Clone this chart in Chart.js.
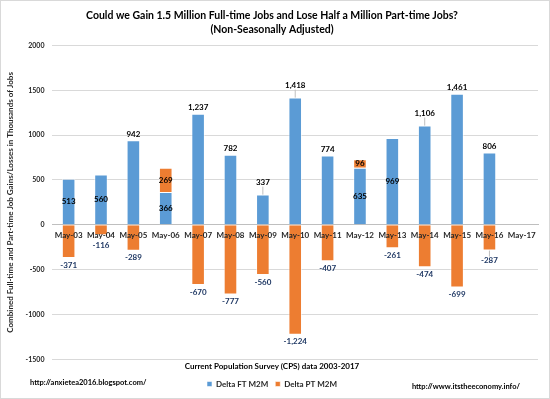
<!DOCTYPE html>
<html>
<head>
<meta charset="utf-8">
<script src="https://cdn.jsdelivr.net/npm/chart.js@4/dist/chart.umd.min.js"></script>
<style>
  html, body { margin: 0; padding: 0; background: #fff; }
</style>
</head>
<body>
<canvas id="jobsChart" width="550" height="399"></canvas>
<script>
// data (thousands of jobs)
const months = ['May-03', 'May-04', 'May-05', 'May-06', 'May-07', 'May-08', 'May-09', 'May-10',
                'May-11', 'May-12', 'May-13', 'May-14', 'May-15', 'May-16', 'May-17'];
const ftValues = [513, 560, 942, 366, 1237, 782, 337, 1418, 774, 635, 969, 1106, 1461, 806, null];
const ptValues = [-371, -116, -289, 269, -670, -777, -560, -1224, -407, 96, -261, -474, -699, -287, null];
const yTicks = [2000, 1500, 1000, 500, 0, -500, -1000, -1500];

// which FT labels sit inside the bar, which ones get a leader line
const ftInside = [0, 1, 3, 9, 10];
const leaderFT = [6, 7, 11];
const leaderPT = [13];

const FONT = 'Lato, "Liberation Sans", sans-serif';

// white background + thin chart border + footer links
const frame = {
  id: 'frame',
  beforeDraw(chart) {
    const ctx = chart.ctx;
    ctx.save();
    ctx.fillStyle = '#fff';
    ctx.fillRect(0, 0, chart.width, chart.height);
    ctx.strokeStyle = '#d9d9d9';
    ctx.strokeRect(0.5, 0.5, chart.width - 1, chart.height - 1);
    ctx.restore();
  },
  afterDraw(chart) {
    const ctx = chart.ctx;
    ctx.save();
    ctx.font = 'bold 7.5px ' + FONT;
    ctx.fillStyle = '#000';
    ctx.textBaseline = 'middle';
    ctx.textAlign = 'left';
    ctx.fillText('http://anxietea2016.blogspot.com/', 30, 383);
    ctx.textAlign = 'right';
    ctx.fillText('http://www.itstheeconomy.info/', 520, 387);
    ctx.restore();
  }
};

// value labels on the bars
const barLabels = {
  id: 'barLabels',
  afterDatasetsDraw(chart) {
    const ctx = chart.ctx;
    ctx.save();
    ctx.font = 'bold 8px ' + FONT;
    ctx.textAlign = 'center';
    ctx.textBaseline = 'middle';
    chart.data.datasets.forEach((ds, di) => {
      chart.getDatasetMeta(di).data.forEach((bar, i) => {
        const v = ds.data[i];
        if (v == null) return;
        const top = Math.min(bar.y, bar.base);
        const bottom = Math.max(bar.y, bar.base);
        const txt = v.toLocaleString('en-US');
        let y;
        let color = '#000';
        if (v > 0 && (di === 1 || ftInside.includes(i))) {
          y = (top + bottom) / 2;
        } else if (v > 0) {
          if (leaderFT.includes(i)) {
            y = top - 12;
            ctx.strokeStyle = '#bfbfbf';
            ctx.beginPath();
            ctx.moveTo(bar.x, y + 4);
            ctx.lineTo(bar.x, top);
            ctx.stroke();
          } else {
            y = top - 6;
          }
        } else {
          color = '#1f3864';
          if (leaderPT.includes(i)) {
            y = bottom + 10;
            ctx.strokeStyle = '#bfbfbf';
            ctx.beginPath();
            ctx.moveTo(bar.x, bottom);
            ctx.lineTo(bar.x, y - 4);
            ctx.stroke();
          } else {
            // keep clear of the month labels on the zero line
            y = Math.max(bottom + 7, bar.base + 20);
          }
        }
        ctx.fillStyle = color;
        ctx.fillText(txt, bar.x, y);
      });
    });
    ctx.restore();
  }
};

new Chart(document.getElementById('jobsChart'), {
  type: 'bar',
  data: {
    labels: months,
    datasets: [{
      label: 'Delta FT M2M',
      data: ftValues,
      backgroundColor: '#5b9bd5',
      borderColor: 'rgba(255,255,255,0.55)',
      borderWidth: 1
    }, {
      label: 'Delta PT M2M',
      data: ptValues,
      backgroundColor: '#ed7d31',
      borderColor: 'rgba(255,255,255,0.55)',
      borderWidth: 1
    }]
  },
  options: {
    responsive: false,
    animation: false,
    layout: { padding: { left: 6, right: 12, bottom: 1 } },
    datasets: {
      bar: { barPercentage: 0.42, categoryPercentage: 1 }
    },
    scales: {
      x: {
        stacked: true,
        position: { y: 0 },
        grid: { display: false },
        border: { display: true, color: '#bfbfbf' },
        ticks: {
          z: 1,
          color: '#262626',
          font: { family: FONT, size: 8, weight: 'bold' },
          maxRotation: 0,
          autoSkip: false,
          padding: -2
        }
      },
      y: {
        stacked: true,
        min: -1500,
        max: 2000,
        afterBuildTicks(scale) {
          scale.ticks = yTicks.map(v => ({ value: v }));
        },
        grid: { color: '#d9d9d9', drawTicks: false },
        border: { display: false },
        ticks: {
          color: '#262626',
          font: { family: FONT, size: 7, weight: 'bold' },
          padding: 8,
          callback: v => String(v)
        },
        title: {
          display: true,
          text: 'Combined Full-time and Part-time Job Gains/Losses in Thousands of Jobs',
          color: '#262626',
          font: { family: FONT, size: 8, weight: 'bold' },
          padding: { top: 0, bottom: 2 }
        }
      }
    },
    plugins: {
      title: {
        display: true,
        text: ['Could we Gain 1.5 Million Full-time Jobs and Lose Half a Million Part-time Jobs?',
               '(Non-Seasonally Adjusted)'],
        color: '#000',
        font: { family: FONT, size: 10.5, weight: 'bold', lineHeight: 1.4 },
        padding: { top: 8, bottom: 8 }
      },
      subtitle: {
        display: true,
        position: 'bottom',
        weight: 500,
        text: 'Current Population Survey (CPS) data 2003-2017',
        color: '#000',
        font: { family: FONT, size: 8, weight: 'bold' },
        padding: { top: 2, bottom: 2 }
      },
      legend: {
        position: 'bottom',
        weight: 2000,
        labels: {
          boxWidth: 5,
          boxHeight: 5,
          color: '#262626',
          font: { family: FONT, size: 8, weight: 'bold' },
          padding: 7
        }
      },
      tooltip: { enabled: false }
    }
  },
  plugins: [frame, barLabels]
});
</script>
</body>
</html>
